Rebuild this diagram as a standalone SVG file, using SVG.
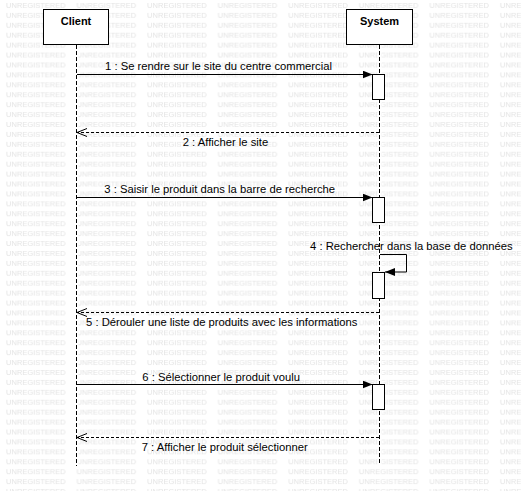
<svg xmlns="http://www.w3.org/2000/svg" width="521" height="491" viewBox="0 0 521 491">
  <style>
    .wm { font-family: "Liberation Sans", Arial, sans-serif; font-size: 7.5px; fill: #e3e3e3; }
    .actor { fill: #ffffff; stroke: #000000; stroke-width: 1; }
    .actor-label { font-family: "Liberation Sans", Arial, sans-serif; font-size: 11px; font-weight: bold; fill: #000000; text-anchor: middle; }
    .lifeline-bg { stroke: #ffffff; stroke-width: 4; fill: none; }
    .lifeline { stroke: #000000; stroke-width: 1; stroke-dasharray: 4 2; fill: none; }
    .act { fill: #ffffff; stroke: #000000; stroke-width: 1; }
    .msg { stroke: #000000; stroke-width: 1; fill: none; }
    .ret { stroke: #000000; stroke-width: 1; stroke-dasharray: 3 2; fill: none; }
    .lbl { font-family: "Liberation Sans", Arial, sans-serif; font-size: 11.25px; fill: #000000; }
  </style>
  <defs>
    <pattern id="watermark" patternUnits="userSpaceOnUse" x="0" y="0" width="70.57" height="9.92">
      <text class="wm" x="6" y="7.6">UNREGISTERED</text>
    </pattern>
    <marker id="filled" viewBox="0 0 10 8" refX="10" refY="4" markerWidth="10" markerHeight="8" markerUnits="userSpaceOnUse" orient="auto">
      <path d="M0,0 L10,4 L0,8 Z" fill="#000000"/>
    </marker>
    <marker id="open" viewBox="0 0 11 10" refX="10" refY="5" markerWidth="11" markerHeight="10" markerUnits="userSpaceOnUse" orient="auto">
      <path d="M0,1 L10,5 L0,9" fill="none" stroke="#000000" stroke-width="1"/>
    </marker>
  </defs>

  <rect x="0" y="0" width="521" height="491" fill="#ffffff"/>
  <rect x="0" y="0" width="521" height="491" fill="url(#watermark)"/>

  <g id="lifelines">
    <line class="lifeline-bg" x1="76.5" y1="45" x2="76.5" y2="465"/>
    <line class="lifeline-bg" x1="379.5" y1="45" x2="379.5" y2="465"/>
    <line class="lifeline" x1="76.5" y1="45" x2="76.5" y2="466"/>
    <line class="lifeline" x1="379.5" y1="45" x2="379.5" y2="465"/>
  </g>

  <g id="client">
    <rect class="actor" x="43.5" y="9.5" width="65" height="35"/>
    <text class="actor-label" x="76" y="25">Client</text>
  </g>

  <g id="system">
    <rect class="actor" x="346.5" y="9.5" width="66" height="35"/>
    <text class="actor-label" x="379.5" y="25">System</text>
  </g>

  <g id="activations">
    <rect class="act" x="372.5" y="74.5" width="12" height="25"/>
    <rect class="act" x="372.5" y="197.5" width="12" height="25"/>
    <rect class="act" x="372.5" y="272.5" width="12" height="26"/>
    <rect class="act" x="372.5" y="384.5" width="12" height="25"/>
  </g>

  <g id="connectors">
    <line class="msg" x1="77" y1="74.5" x2="372.5" y2="74.5" marker-end="url(#filled)"/>
    <line class="ret" x1="379" y1="132.5" x2="77" y2="132.5" marker-end="url(#open)"/>
    <line class="msg" x1="77" y1="197.5" x2="372.5" y2="197.5" marker-end="url(#filled)"/>
    <polyline class="msg" points="380,254.5 406.5,254.5 406.5,272 385,272" marker-end="url(#filled)"/>
    <line class="ret" x1="379" y1="312.5" x2="77" y2="312.5" marker-end="url(#open)"/>
    <line class="msg" x1="77" y1="384.5" x2="372.5" y2="384.5" marker-end="url(#filled)"/>
    <line class="ret" x1="379" y1="437.5" x2="77" y2="437.5" marker-end="url(#open)"/>
  </g>

  <g id="labels">
    <text class="lbl" x="105" y="70">1 : Se rendre sur le site du centre commercial</text>
    <text class="lbl" x="182.7" y="145.5">2 : Afficher le site</text>
    <text class="lbl" x="104.3" y="192.5">3 : Saisir le produit dans la barre de recherche</text>
    <text class="lbl" x="310" y="249.5">4 : Rechercher dans la base de données</text>
    <text class="lbl" x="86" y="325.5">5 : Dérouler une liste de produits avec les informations</text>
    <text class="lbl" x="142.3" y="380.5">6 : Sélectionner le produit voulu</text>
    <text class="lbl" x="141.7" y="451">7 : Afficher le produit sélectionner</text>
  </g>
</svg>
